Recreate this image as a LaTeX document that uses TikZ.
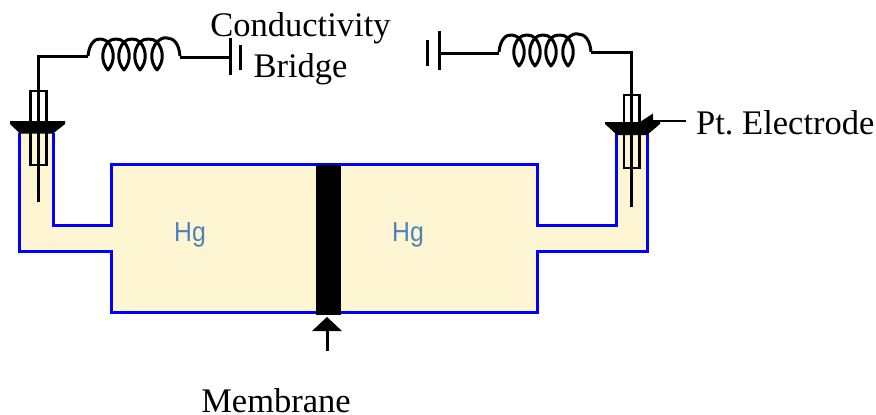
\documentclass[tikz,border=0pt]{standalone}
\usepackage{fontspec}
\setmainfont{Liberation Serif}
\newfontfamily\hgfont[FakeStretch=0.9]{Liberation Sans}
\definecolor{hgfill}{HTML}{FEF6D2}
\definecolor{hgtext}{HTML}{4F81BD}
\definecolor{hgblue}{HTML}{0000FF}
\tikzset{
  wire/.style={draw=black,line width=3pt,line join=miter},
  coilwire/.style={draw=black,line width=3pt,line join=round},
  tube/.style={draw=black,line width=2.8pt},
  vessel/.style={draw=hgblue,line width=3pt},
  lbl/.style={font=\fontsize{34.5}{36}\selectfont\frenchspacing,inner sep=0pt,text=black,anchor=base},
  hg/.style={font=\hgfont\fontsize{27.5}{29}\selectfont,inner sep=0pt,text=hgtext,anchor=base},
}
\newcommand{\loopat}[2]{%
  \draw[coilwire] (#1,#2-14) .. controls (#1+7,#2-6) and (#1+7,#2+6) .. (#1,#2+14)
     .. controls (#1-7,#2+6) and (#1-7,#2-6) .. (#1,#2-14);}
\newcommand{\coil}[2]{%
  \draw[coilwire] (#1,#2) .. controls (#1+1,#2-12) and (#1+7,#2-18) .. (#1+13,#2-17)
    .. controls (#1+16,#2-17) and (#1+18,#2-15) .. (#1+20,#2-14)
    .. controls (#1+24,#2-18) and (#1+32,#2-18) .. (#1+36,#2-14)
    .. controls (#1+40,#2-18) and (#1+48,#2-18) .. (#1+52,#2-14)
    .. controls (#1+56,#2-18) and (#1+65,#2-18) .. (#1+69,#2-14)
    .. controls (#1+72,#2-17) and (#1+76,#2-19) .. (#1+79,#2-18)
    .. controls (#1+86,#2-18) and (#1+91,#2-12) .. (#1+92,#2);
  \loopat{#1+20}{#2}\loopat{#1+36}{#2}\loopat{#1+52}{#2}\loopat{#1+69}{#2}
}
\begin{document}
\begin{tikzpicture}[x=1pt,y=-1pt]
\useasboundingbox (0,0) rectangle (876,415);
% vessel
\path[fill=hgfill] (19.5,133) -- (53.5,133) -- (53.5,225.5) -- (111,225.5) -- (111,164.5) -- (537,164.5) -- (537,225.5) -- (616,225.5) -- (616,133) -- (647,133) -- (647,251) -- (537,251) -- (537,312) -- (111,312) -- (111,251) -- (19.5,251) -- cycle;
\draw[vessel] (19.5,133) -- (19.5,251) -- (111,251) -- (111,312) -- (537,312) -- (537,251) -- (647,251) -- (647,133);
\draw[vessel] (53.5,133) -- (53.5,225.5) -- (111,225.5) -- (111,164.5) -- (537,164.5) -- (537,225.5) -- (616,225.5) -- (616,133);
\fill[black] (316,165) rectangle (341,315);
% left circuit
\coordinate (lbend) at (38,56);
\coordinate (lcoilin) at (88,56);
\coordinate (lcoilout) at (180,57);
\coordinate (lplate) at (230,57);
\draw[wire] (38,202) -- (lbend) -- (lcoilin);
\coil{88}{56}
\draw[wire] (lcoilout) -- (lplate);
\draw[wire] (230,38) -- (230,75);
\draw[wire] (240.5,44.5) -- (240.5,70);
\draw[tube] (30.5,91) rectangle (46.5,165);
\fill[black] (10,121) -- (65,121) -- (65,124) -- (53,133.5) -- (20,133.5) -- (10,124) -- cycle;
% right circuit
\coordinate (rbend) at (631,52);
\coordinate (rcoilout) at (591,52);
\coordinate (rcoilin) at (499,53);
\coordinate (rplate) at (439.5,53);
\draw[wire] (631,207) -- (rbend) -- (rcoilout);
\coil{499}{52}
\draw[wire] (rcoilin) -- (rplate);
\draw[wire] (439.5,31) -- (439.5,70);
\draw[wire] (427,40) -- (427,66);
\draw[tube] (624,95) rectangle (639.5,168);
\fill[black] (605,122) -- (640,122) -- (653,113.5) -- (653,122) -- (660,122) -- (660,124) -- (647,135) -- (617,135) -- (605,124) -- cycle;
\coordinate (ptend) at (686,120.5);
\coordinate (pttip) at (652,120.5);
\draw[line width=2pt] (pttip) -- (ptend);
% membrane arrow
\coordinate (mtail) at (327,351);
\coordinate (mhead) at (327,327);
\draw[wire] (mtail) -- (mhead);
\fill[black] (327,317) -- (342,331) -- (312,331) -- cycle;
% text
\node[lbl] at (300.5,36) {Conductivity};
\node[lbl] at (300.5,77) {Bridge};
\node[lbl,anchor=base west] at (696,134) {Pt. Electrode};
\node[lbl] at (276,412.5) {Membrane};
\node[hg] at (190,241) {Hg};
\node[hg] at (408,241) {Hg};
\end{tikzpicture}
\end{document}
